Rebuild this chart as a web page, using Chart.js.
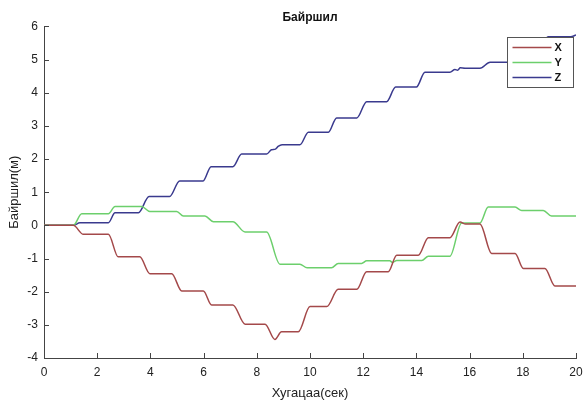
<!DOCTYPE html>
<html>
<head>
<meta charset="utf-8">
<script src="https://cdn.jsdelivr.net/npm/chart.js@4.4.1/dist/chart.umd.min.js"></script>
<style>
  html, body { margin: 0; padding: 0; background: #ffffff; }
  #wrap { width: 585px; height: 401px; }
</style>
</head>
<body>
<div id="wrap"><canvas id="c" width="585" height="401"></canvas></div>
<script>
// Position traces (metres) against time (seconds)
const tX = [0, 1.1, 1.48, 2.42, 2.79, 3.6, 3.98, 4.8, 5.18, 5.99, 6.3, 7.1, 7.56, 8.31, 8.68, 8.93, 9.56, 10.0, 10.63, 11.06, 11.76, 12.13, 12.94, 13.26, 14.07, 14.45, 15.26, 15.64, 15.85, 16.39, 16.83, 17.71, 18.02, 18.83, 19.21, 20];
const xPos = [0, 0, -0.27, -0.27, -0.95, -0.95, -1.46, -1.46, -1.98, -1.98, -2.4, -2.4, -2.98, -2.98, -3.44, -3.21, -3.21, -2.45, -2.45, -1.93, -1.93, -1.4, -1.4, -0.9, -0.9, -0.37, -0.37, 0.1, 0.04, 0.04, -0.85, -0.85, -1.3, -1.3, -1.83, -1.83];

const tY = [0, 1.1, 1.42, 2.42, 2.67, 3.67, 3.98, 4.99, 5.24, 6.05, 6.37, 7.1, 7.56, 8.37, 8.87, 9.62, 9.89, 10.81, 11.06, 11.94, 12.13, 13.0, 13.1, 13.26, 14.2, 14.45, 15.26, 15.7, 16.39, 16.7, 17.71, 17.96, 18.77, 19.08, 20];
const yPos = [0, 0, 0.35, 0.35, 0.57, 0.57, 0.42, 0.42, 0.28, 0.28, 0.11, 0.11, -0.2, -0.2, -1.17, -1.17, -1.28, -1.28, -1.15, -1.15, -1.07, -1.07, -1.12, -1.06, -1.06, -0.93, -0.93, 0.07, 0.07, 0.55, 0.55, 0.45, 0.45, 0.28, 0.28];

const tZ = [0, 1.1, 1.35, 2.42, 2.67, 3.55, 3.95, 4.72, 5.1, 5.98, 6.28, 7.1, 7.43, 8.37, 8.55, 8.7, 8.8, 8.95, 9.62, 9.94, 10.69, 11.0, 11.76, 12.13, 12.88, 13.22, 14.0, 14.32, 15.26, 15.45, 15.55, 15.65, 15.83, 16.39, 16.77, 17.8, 18.2, 18.6, 18.95, 19.8, 20];
const zPos = [0, 0, 0.08, 0.08, 0.38, 0.38, 0.87, 0.87, 1.34, 1.34, 1.77, 1.77, 2.15, 2.15, 2.28, 2.3, 2.38, 2.43, 2.43, 2.81, 2.81, 3.24, 3.24, 3.73, 3.73, 4.17, 4.17, 4.62, 4.62, 4.7, 4.68, 4.75, 4.74, 4.74, 4.92, 4.92, 5.3, 5.3, 5.69, 5.69, 5.74];

const seriesNames = ['X', 'Y', 'Z'];
const xTicks = [0, 2, 4, 6, 8, 10, 12, 14, 16, 18, 20];
const yTicks = [-4, -3, -2, -1, 0, 1, 2, 3, 4, 5, 6];

const FONT = "'Liberation Sans', Arial, sans-serif";
const AXIS = '#444444';

function pts(ts, vs) { return ts.map((t, i) => ({ x: t, y: vs[i] })); }

// Inward tick marks on the left and bottom axes
const inwardTicks = {
  id: 'inwardTicks',
  afterDatasetsDraw(chart) {
    const { ctx, chartArea: a, scales: { x, y } } = chart;
    ctx.save();
    ctx.strokeStyle = AXIS;
    ctx.lineWidth = 1;
    ctx.beginPath();
    xTicks.forEach(v => {
      const px = Math.round(x.getPixelForValue(v)) + 0.5;
      ctx.moveTo(px, a.bottom);
      ctx.lineTo(px, a.bottom - 5);
    });
    yTicks.forEach(v => {
      const py = Math.round(y.getPixelForValue(v)) + 0.5;
      ctx.moveTo(a.left, py);
      ctx.lineTo(a.left + 5, py);
    });
    ctx.stroke();
    ctx.restore();
  }
};

// Boxed legend in the upper right corner of the plot
const boxLegend = {
  id: 'boxLegend',
  afterDraw(chart) {
    const { ctx, chartArea: a } = chart;
    const w = 66, h = 50;
    const bx = Math.round(a.right - 3 - w) + 0.5;
    const by = Math.round(a.top + 11) + 0.5;
    ctx.save();
    ctx.fillStyle = '#ffffff';
    ctx.fillRect(bx, by, w, h);
    ctx.strokeStyle = '#555555';
    ctx.lineWidth = 1;
    ctx.strokeRect(bx, by, w, h);
    ctx.font = 'bold 11px ' + FONT;
    ctx.textBaseline = 'middle';
    ctx.textAlign = 'left';
    chart.data.datasets.forEach((ds, i) => {
      const ry = by + 10 + i * 15;
      ctx.strokeStyle = ds.borderColor;
      ctx.lineWidth = 1.3;
      ctx.beginPath();
      ctx.moveTo(bx + 5, ry);
      ctx.lineTo(bx + 44, ry);
      ctx.stroke();
      ctx.fillStyle = '#111111';
      ctx.fillText(ds.label, bx + 47, ry + 0.5);
    });
    ctx.restore();
  }
};

const colors = ['#a4494a', '#6ccf6c', '#3a3a8e'];
const sets = [pts(tX, xPos), pts(tY, yPos), pts(tZ, zPos)];

new Chart(document.getElementById('c'), {
  type: 'line',
  data: {
    datasets: sets.map((d, i) => ({
      label: seriesNames[i],
      data: d,
      borderColor: colors[i],
      backgroundColor: colors[i],
      borderWidth: 1.5,
      pointRadius: 0,
      cubicInterpolationMode: 'monotone',
      fill: false
    }))
  },
  options: {
    responsive: false,
    animation: false,
    events: [],
    layout: { padding: { left: 0, right: 0, top: 0, bottom: 0 } },
    plugins: {
      legend: { display: false },
      tooltip: { enabled: false },
      title: {
        display: true,
        text: 'Байршил',
        fullSize: false,
        color: '#111111',
        font: { family: FONT, size: 12, weight: 'bold' },
        padding: { top: 10, bottom: 2 }
      }
    },
    scales: {
      x: {
        type: 'linear',
        min: 0, max: 20,
        afterFit(s) { s.height = 43; s.paddingRight = 9; },
        afterBuildTicks(s) { s.ticks = xTicks.map(v => ({ value: v })); },
        grid: { display: false, drawTicks: false },
        border: { display: true, color: AXIS, width: 1 },
        ticks: { color: '#222222', font: { family: FONT, size: 12 }, padding: 7, maxRotation: 0 },
        title: {
          display: true, text: 'Хугацаа(сек)', color: '#222222',
          font: { family: FONT, size: 13 }, padding: { top: 5, bottom: 0 }
        }
      },
      y: {
        type: 'linear',
        min: -4, max: 6,
        afterFit(s) { s.width = 44; },
        afterBuildTicks(s) { s.ticks = yTicks.map(v => ({ value: v })); },
        grid: { display: false, drawTicks: false },
        border: { display: true, color: AXIS, width: 1 },
        ticks: { color: '#222222', font: { family: FONT, size: 12 }, padding: 6 },
        title: {
          display: true, text: 'Байршил(м)', color: '#222222',
          font: { family: FONT, size: 13 }, padding: { top: 7, bottom: 0 }
        }
      }
    }
  },
  plugins: [inwardTicks, boxLegend]
});
</script>
</body>
</html>
